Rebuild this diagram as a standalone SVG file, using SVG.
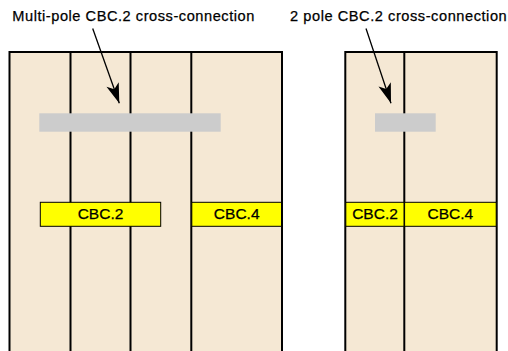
<svg xmlns="http://www.w3.org/2000/svg" width="508" height="351" viewBox="0 0 508 351">
<style>
.panel{fill:#f5e8d4;stroke:#000;stroke-width:2}
.div{stroke:#000;stroke-width:2}
.bar{fill:#cccccc}
.cbc{fill:#ffff00;stroke:#000;stroke-width:1}
.lbl{font-family:"Liberation Sans",Arial,sans-serif;font-size:15.5px;fill:#000;stroke:#000;stroke-width:0.25;text-anchor:middle}
.title{font-family:"Liberation Sans",Arial,sans-serif;font-size:14.6px;fill:#000;stroke:#000;stroke-width:0.25}
.conn{stroke:#000;stroke-width:1.3;fill:none}
</style>
<defs>
<marker id="ah" markerUnits="userSpaceOnUse" markerWidth="24" markerHeight="16" viewBox="-21 -8 22 16" refX="0" refY="0" orient="auto">
<path d="M0,0 L-20,-6.5 L-15,0 L-20,6.5 Z" fill="#000"/>
</marker>
</defs>
<g id="panel-multi">
<rect class="panel" x="9.5" y="52" width="272.5" height="320"/>
<line class="div" x1="70.5" y1="52" x2="70.5" y2="360"/>
<line class="div" x1="130.5" y1="52" x2="130.5" y2="360"/>
<line class="div" x1="191.3" y1="52" x2="191.3" y2="360"/>
</g>
<g id="panel-2pole">
<rect class="panel" x="345.3" y="52" width="151.4" height="320"/>
<line class="div" x1="404.3" y1="52" x2="404.3" y2="360"/>
</g>
<g id="bar-multi"><rect class="bar" x="39.3" y="113.3" width="181.4" height="18.4"/></g>
<g id="bar-2pole"><rect class="bar" x="375" y="113.3" width="60.7" height="18.4"/></g>
<g id="cbc2-left"><rect class="cbc" x="40.3" y="202.3" width="120.4" height="24"/><text class="lbl" x="100.5" y="219.2">CBC.2</text></g>
<g id="cbc4-left"><rect class="cbc" x="191.8" y="202.3" width="89.7" height="24"/><text class="lbl" x="236.7" y="219.2">CBC.4</text></g>
<g id="cbc2-right"><rect class="cbc" x="345.8" y="202.3" width="58.2" height="24"/><text class="lbl" x="375" y="219.2">CBC.2</text></g>
<g id="cbc4-right"><rect class="cbc" x="404.6" y="202.3" width="91.6" height="24"/><text class="lbl" x="450.4" y="219.2">CBC.4</text></g>
<g id="title-multi"><text class="title" x="12.3" y="21" textLength="242" lengthAdjust="spacing">Multi-pole CBC.2 cross-connection</text></g>
<g id="title-2pole"><text class="title" x="290" y="21" textLength="216.7" lengthAdjust="spacing">2 pole CBC.2 cross-connection</text></g>
<g id="connectors">
<line class="conn" x1="92.7" y1="28.5" x2="119.3" y2="103.3" marker-end="url(#ah)"/>
<line class="conn" x1="366" y1="28.5" x2="391" y2="103.3" marker-end="url(#ah)"/>
</g>
</svg>
